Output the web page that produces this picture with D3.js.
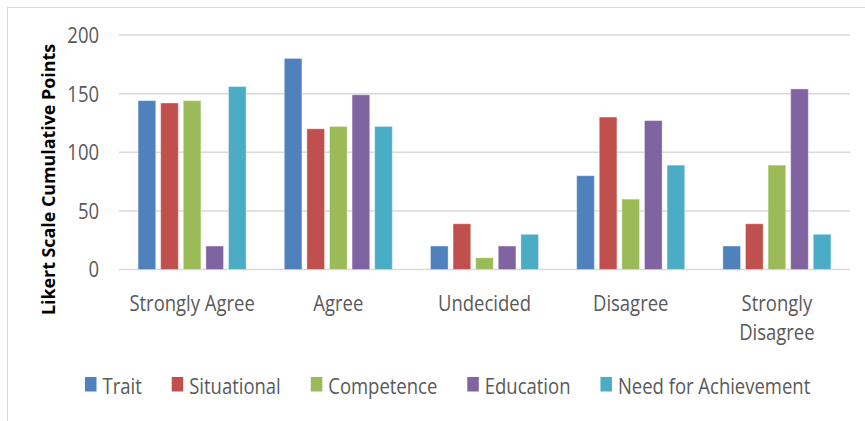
<!DOCTYPE html>
<html>
<head>
<meta charset="utf-8">
<script src="https://cdn.jsdelivr.net/npm/d3@7"></script>
<style>
  body { margin: 0; background: #fff; }
  svg { display: block; font-family: "Open Sans", sans-serif; }
</style>
</head>
<body>
<svg width="865" height="421"></svg>
<script>
// data
var categories = ["Strongly Agree", "Agree", "Undecided", "Disagree", "Strongly Disagree"];
var seriesNames = ["Trait", "Situational", "Competence", "Education", "Need for Achievement"];
var trait = [144, 180, 20, 80, 20];
var situational = [142, 120, 39, 130, 39];
var competence = [144, 122, 10, 60, 89];
var education = [20, 149, 20, 127, 154];
var achievement = [156, 122, 30, 89, 30];
var yTicks = [0, 50, 100, 150, 200];
var colors = ["#4F81BD", "#C0504D", "#9BBB59", "#8064A2", "#4BACC6"];

var seriesValues = [trait, situational, competence, education, achievement];
var rows = categories.map(function(c, i) {
	return {
		cat: c,
		vals: seriesNames.map(function(s, j) {
			return { key: s, value: seriesValues[j][i] };
		})
	};
});

var svg = d3.select("svg");
var sx = 0.88; // squeeze text horizontally (narrow Calibri look)

// outer frame
svg.append("rect")
	.attr("x", 7.5).attr("y", 7.5)
	.attr("width", 870).attr("height", 420)
	.attr("fill", "none")
	.attr("stroke", "#d9d9d9");

var x0 = d3.scaleBand().domain(categories).range([119, 850]);
var x1 = d3.scaleBand().domain(seriesNames)
	.range([0, x0.bandwidth()])
	.paddingInner(0.22)
	.paddingOuter(0.845);
var y = d3.scaleLinear().domain([0, 200]).range([269.5, 35]);

// gridlines
svg.append("g")
	.selectAll("line")
	.data(yTicks)
	.join("line")
	.attr("x1", 119).attr("x2", 850)
	.attr("y1", function(d) { return y(d); })
	.attr("y2", function(d) { return y(d); })
	.attr("stroke", "#d9d9d9")
	.attr("stroke-width", 1.5);

// y tick labels
svg.append("g")
	.selectAll("text")
	.data(yTicks)
	.join("text")
	.attr("transform", function(d) { return "translate(99," + y(d) + ") scale(" + sx + ",1)"; })
	.attr("text-anchor", "end")
	.attr("dominant-baseline", "central")
	.attr("font-size", 21)
	.attr("fill", "#595959")
	.text(function(d) { return d; });

// bars
var groups = svg.append("g")
	.selectAll("g")
	.data(rows)
	.join("g")
	.attr("transform", function(d) { return "translate(" + x0(d.cat) + ",0)"; });

groups.selectAll("rect")
	.data(function(d) { return d.vals; })
	.join("rect")
	.attr("x", function(d) { return x1(d.key); })
	.attr("width", x1.bandwidth())
	.attr("y", function(d) { return y(d.value); })
	.attr("height", function(d) { return y(0) - y(d.value); })
	.attr("fill", function(d, i) { return colors[i]; })
	.attr("stroke", "#fff")
	.attr("stroke-opacity", 0.35)
	.attr("stroke-width", 1);

// category labels, wrapped when too wide
var catLabels = svg.append("g")
	.selectAll("text")
	.data(categories)
	.join("text")
	.attr("transform", function(d) { return "translate(" + (x0(d) + x0.bandwidth() / 2) + ",311) scale(" + sx + ",1)"; })
	.attr("text-anchor", "middle")
	.attr("font-size", 21)
	.attr("fill", "#595959");

catLabels.each(function(d) {
	var t = d3.select(this);
	t.text(d);
	if (this.getComputedTextLength() * sx > x0.bandwidth() - 4) {
		t.text(null);
		d.split(" ").forEach(function(w, i) {
			t.append("tspan").attr("x", 0).attr("dy", i ? 29 : 0).text(w);
		});
	}
});

// y axis title
svg.append("text")
	.attr("transform", "translate(55,179.5) rotate(-90) scale(1.05,1)")
	.attr("text-anchor", "middle")
	.attr("font-size", 17)
	.attr("font-weight", "bold")
	.attr("fill", "#000")
	.text("Likert Scale Cumulative Points");

// legend
var legend = svg.append("g");
var lx = 85;
seriesNames.forEach(function(s, i) {
	legend.append("rect")
		.attr("x", lx).attr("y", 377)
		.attr("width", 11.5).attr("height", 14.5)
		.attr("fill", colors[i]);
	var t = legend.append("text")
		.attr("transform", "translate(" + (lx + 17.5) + ",393.5) scale(" + sx + ",1)")
		.attr("font-size", 21)
		.attr("fill", "#595959")
		.text(s);
	lx += 17.5 + t.node().getComputedTextLength() * sx + 30;
});
</script>
</body>
</html>
